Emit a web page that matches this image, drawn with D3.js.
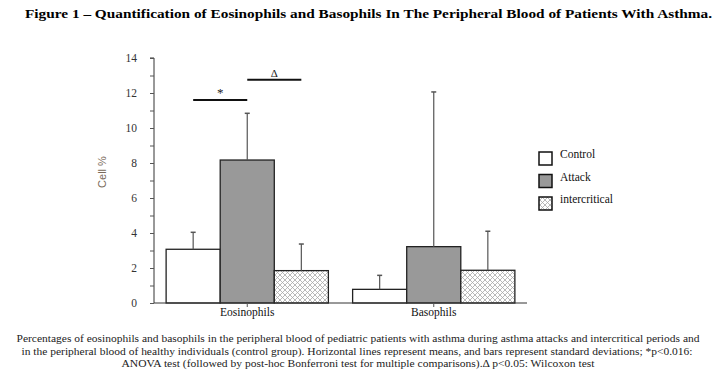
<!DOCTYPE html>
<html><head><meta charset="utf-8">
<script src="https://cdn.jsdelivr.net/npm/d3@7"></script>
<style>body{margin:0;background:#fff}</style>
</head><body>
<script>
const categories = ["Eosinophils", "Basophils"];
const groups = ["Control", "Attack", "intercritical"];
const means = [[3.07, 8.17, 1.85], [0.78, 3.22, 1.87]];
const sds = [[0.97, 2.67, 1.52], [0.80, 8.84, 2.23]];
const yTicks = [0, 2, 4, 6, 8, 10, 12, 14];
const sigLines = [
  {label: "*", from: 0, to: 1, cat: 0, value: 11.6},
  {label: "Δ", from: 1, to: 2, cat: 0, value: 12.76}
];
const title = "Figure 1 – Quantification of Eosinophils and Basophils In The Peripheral Blood of Patients With Asthma.";
const caption = [
  "Percentages of eosinophils and basophils in the peripheral blood of pediatric patients with asthma during asthma attacks and intercritical periods and",
  "in the peripheral blood of healthy individuals (control group). Horizontal lines represent means, and bars represent standard deviations; *p<0.016:",
  "ANOVA test (followed by post-hoc Bonferroni test for multiple comparisons).Δ p<0.05: Wilcoxon test"
];
const captionLayout = [[358, 683], [357, 671], [358, 473]];

const W = 723, H = 384;
const svg = d3.select("body").append("svg").attr("width", W).attr("height", H);
const serif = "Liberation Serif, Times New Roman, DejaVu Serif, serif";

const defs = svg.append("defs");
const pat = defs.append("pattern").attr("id", "hatch").attr("patternUnits", "userSpaceOnUse")
  .attr("width", 5).attr("height", 5);
pat.append("rect").attr("width", 5).attr("height", 5).attr("fill", "#fff");
pat.append("path").attr("d", "M0,0 L5,5 M5,0 L0,5").attr("stroke", "#a8a8a8").attr("stroke-width", 0.8);

svg.append("text").attr("x", 368.5).attr("y", 18).attr("text-anchor", "middle")
  .attr("textLength", 687).attr("lengthAdjust", "spacingAndGlyphs")
  .style("font-family", serif).attr("font-weight", "bold").attr("font-size", 13.5).text(title);

const x0 = 154, x1 = 527, yBase = 303, yTop = 58;
const y = d3.scaleLinear().domain([0, 14]).range([yBase, yTop]);
const xb = d3.scaleBand().domain(categories).range([x0, x1]).paddingInner(0.13).paddingOuter(0.065);
const xi = d3.scaleBand().domain(groups).range([0, xb.bandwidth()]);
const fills = {"Control": "#fff", "Attack": "#999", "intercritical": "url(#hatch)"};

// bars
categories.forEach((c, ci) => {
  groups.forEach((g, gi) => {
    const bx = xb(c) + xi(g);
    svg.append("rect").attr("x", bx).attr("y", y(means[ci][gi]))
      .attr("width", xi.bandwidth()).attr("height", y(0) - y(means[ci][gi]))
      .attr("fill", fills[g]).attr("stroke", "#222").attr("stroke-width", 1.3);
    const cx = bx + xi.bandwidth() / 2;
    const top = means[ci][gi] + sds[ci][gi];
    svg.append("line").attr("x1", cx).attr("x2", cx).attr("y1", y(means[ci][gi])).attr("y2", y(top))
      .attr("stroke", "#555").attr("stroke-width", 1.2);
    svg.append("line").attr("x1", cx - 2.5).attr("x2", cx + 2.5).attr("y1", y(top)).attr("y2", y(top))
      .attr("stroke", "#555").attr("stroke-width", 1.5);
  });
});

// axes
const yAxis = d3.axisLeft(y).tickValues(d3.range(0, 15, 1)).tickSize(4)
  .tickFormat(d => yTicks.includes(d) ? d : "");
const ga = svg.append("g").attr("transform", `translate(${x0},0)`).call(yAxis);
ga.attr("font-family", null).attr("font-size", null);
ga.select(".domain").attr("stroke", "#333").attr("d", `M-4,${yTop}H0V${yBase}`);
ga.selectAll(".tick line").attr("stroke", "#555");
ga.selectAll(".tick text").attr("x", -17).style("font-family", serif).style("font-size", "11.5px").attr("fill", "#333");

const xAxis = d3.axisBottom(xb).tickSize(4);
const gx = svg.append("g").attr("transform", `translate(0,${yBase})`).call(xAxis);
gx.attr("font-family", null).attr("font-size", null);
gx.select(".domain").attr("stroke", "#333").attr("d", `M${x0},0H${x1}`);
gx.selectAll(".tick line").attr("stroke", "#555");
gx.selectAll(".tick text").attr("y", 5).style("font-family", serif).style("font-size", "11.5px").attr("fill", "#111");

svg.append("text").attr("transform", `translate(106,172) rotate(-90)`).attr("text-anchor", "middle")
  .style("font-family", "Liberation Sans, Arial, sans-serif").attr("font-size", 11).attr("fill", "#7a6a5a").text("Cell %");

// significance lines
sigLines.forEach(s => {
  const c = categories[s.cat];
  const xa = xb(c) + xi(groups[s.from]) + xi.bandwidth() / 2;
  const xz = xb(c) + xi(groups[s.to]) + xi.bandwidth() / 2;
  svg.append("line").attr("x1", xa).attr("x2", xz).attr("y1", y(s.value)).attr("y2", y(s.value))
    .attr("stroke", "#111").attr("stroke-width", 2);
  svg.append("text").attr("x", (xa + xz) / 2).attr("y", y(s.value) - 3).attr("text-anchor", "middle")
    .style("font-family", serif).attr("font-size", s.label === "*" ? 13 : 11).attr("fill", "#222").text(s.label);
});

// legend
groups.forEach((g, i) => {
  const ly = 152 + i * 22.5;
  svg.append("rect").attr("x", 539).attr("y", ly).attr("width", 13).attr("height", 13)
    .attr("fill", fills[g]).attr("stroke", "#111").attr("stroke-width", 1.5);
  svg.append("text").attr("x", 560).attr("y", ly + 6).style("font-family", serif).attr("font-size", 11.5)
    .attr("fill", "#111").text(g);
});

// caption
caption.forEach((t, i) => {
  svg.append("text").attr("x", captionLayout[i][0]).attr("y", 342 + i * 12.5).attr("text-anchor", "middle")
    .attr("textLength", captionLayout[i][1]).attr("lengthAdjust", "spacingAndGlyphs")
    .style("font-family", serif).attr("font-size", 10.5).attr("fill", "#222").text(t);
});
</script>
</body></html>
